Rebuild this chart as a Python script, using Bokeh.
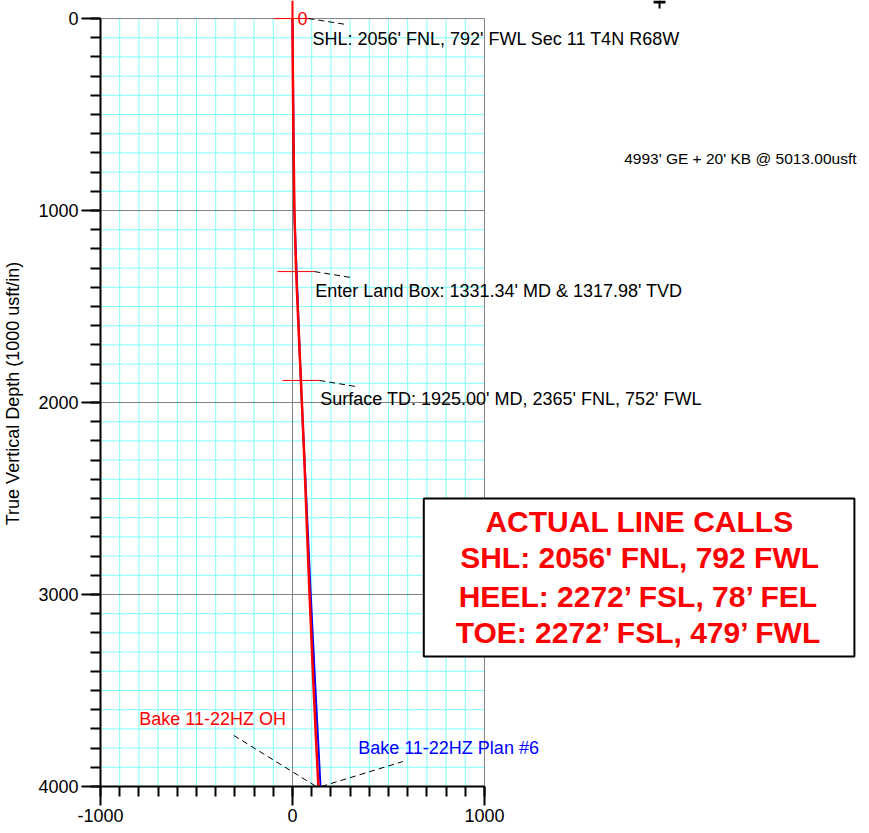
import numpy as np
from bokeh.plotting import figure
from bokeh.models import Range1d, FixedTicker, ColumnDataSource
from bokeh.core.properties import value
from bokeh.embed import file_html
from bokeh.resources import INLINE

# ---- data ----
oh_tvd = [0, 300, 600, 1000, 1318, 1600, 1885, 2300, 2700, 3000, 3400, 3700, 4000]
oh_ew = [0, 2, 5, 10, 19, 31, 44, 62, 77, 89, 106, 120, 135]
plan_tvd = [0, 1000, 1900, 2500, 3000, 3500, 4000]
plan_ew = [0, 9, 44, 72, 95, 120, 146]

marker_tvd = [0, 1318, 1885]
marker_ew = [0, 18, 44]

x_ticks = [-1000, 0, 1000]
y_ticks = [0, 1000, 2000, 3000, 4000]
x_tick_labels = {-1000: "-1000", 0: "0", 1000: "1000"}
y_tick_labels = {0: "0", 1000: "1000", 2000: "2000", 3000: "3000", 4000: "4000"}

note_texts = ["SHL: 2056' FNL, 792' FWL Sec 11 T4N R68W",
              "Enter Land Box: 1331.34' MD & 1317.98' TVD",
              "Surface TD: 1925.00' MD, 2365' FNL, 752' FWL"]
note_x = [104, 119, 145]
note_y = [104, 1417, 1984]

box_lines = ["ACTUAL LINE CALLS",
             "SHL: 2056' FNL, 792 FWL",
             "HEEL: 2272\u2019 FSL, 78\u2019 FEL",
             "TOE: 2272\u2019 FSL, 479\u2019 FWL"]
box_line_y = [2622, 2806, 3012, 3198]

FONT = "Liberation Sans"
XMIN, XMAX = -1000, 2990
YTOP, YBOT = -94, 4000

p = figure(width=866, height=830,
           x_range=Range1d(XMIN, XMAX), y_range=Range1d(YBOT, YTOP),
           output_backend="svg", toolbar_location=None,
           min_border_left=97, min_border_right=0, min_border_top=0, min_border_bottom=44)
p.grid.visible = False
p.outline_line_color = None
p.background_fill_color = "white"
p.border_fill_color = "white"

# ---- grid ----
minor_x = [x for x in range(-900, 1000, 100) if x != 0]
minor_y = [y for y in range(100, 4000, 100) if y % 1000 != 0]
p.segment(x0=minor_x, y0=[0] * len(minor_x), x1=minor_x, y1=[4000] * len(minor_x),
          line_color="#80ffff", line_width=1)
p.segment(x0=[-1000] * len(minor_y), y0=minor_y, x1=[1000] * len(minor_y), y1=minor_y,
          line_color="#80ffff", line_width=1)
gx = [0, 1000]
gy = [0, 1000, 2000, 3000]
p.segment(x0=gx, y0=[0] * len(gx), x1=gx, y1=[4000] * len(gx), line_color="#808080", line_width=1)
p.segment(x0=[-1000] * len(gy), y0=gy, x1=[1000] * len(gy), y1=gy, line_color="#808080", line_width=1)

# ---- wells ----
p.line(plan_ew, plan_tvd, line_color="#0000ff", line_width=2)
p.line(oh_ew, oh_tvd, line_color="#ff0000", line_width=2.5)
p.segment(x0=[oh_ew[0]], y0=[oh_tvd[0]], x1=[oh_ew[0]], y1=[YTOP], line_color="#ff0000", line_width=2)
p.scatter(marker_ew, marker_tvd, marker="dash", size=37, line_color="#ff0000", line_width=1)

# ---- north arrow stub (cut off at top) ----
p.segment(x0=[1912, 1881], y0=[YTOP, -86], x1=[1912, 1943], y1=[-52, -86],
          line_color="black", line_width=[2, 3])

# ---- leaders ----
dash = "6 4"
p.segment(x0=[83, 114, 140, -306, 150], y0=[0, 1318, 1885, 3734, 4000],
          x1=[280, 306, 332, 124, 575], y1=[31, 1349, 1917, 4000, 3870],
          line_color="black", line_width=1, line_dash=dash)

# ---- texts ----
p.text(x=[26], y=[0], text=["0"], text_color="#ff0000", text_font=value(FONT),
       text_font_size="18px", text_baseline="middle", text_align="left")
p.text(x=note_x, y=note_y, text=note_texts, text_color="black", text_font=value(FONT),
       text_font_size="18px", text_baseline="middle", text_align="left")
p.text(x=[2938], y=[729], text=["4993' GE + 20' KB @ 5013.00usft"], text_color="black",
       text_font=value(FONT), text_font_size="15.5px", text_baseline="middle", text_align="right")
p.text(x=[-798], y=[3651], text=["Bake 11-22HZ OH"], text_color="#ff0000", text_font=value(FONT),
       text_font_size="18px", text_baseline="middle", text_align="left")
p.text(x=[342], y=[3802], text=["Bake 11-22HZ Plan #6"], text_color="#0000ff", text_font=value(FONT),
       text_font_size="18px", text_baseline="middle", text_align="left")

# ---- box ----
p.quad(left=[684], right=[2927], top=[2500], bottom=[3323], fill_color="white",
       line_color="black", line_width=2)
p.text(x=[1808] * len(box_lines), y=box_line_y, text=box_lines, text_color="#ff0000",
       text_font=value(FONT), text_font_size="30px", text_font_style="bold",
       text_baseline="middle", text_align="center")

# ---- axes ----
for ax in (p.xaxis[0], p.yaxis[0]):
    ax.axis_line_width = 2
    ax.axis_line_color = "black"
    ax.major_tick_in = 0
    ax.major_tick_out = 19
    ax.minor_tick_in = 0
    ax.minor_tick_out = 10
    ax.major_tick_line_width = 2
    ax.minor_tick_line_width = 2
    ax.major_tick_line_color = "black"
    ax.minor_tick_line_color = "black"
    ax.major_label_text_font = FONT
    ax.major_label_text_font_size = "18px"
    ax.major_label_text_color = "black"
    ax.major_label_standoff = 3

p.xaxis[0].bounds = (-1000, 1000)
p.xaxis[0].ticker = FixedTicker(ticks=x_ticks, minor_ticks=list(range(-1000, 1001, 100)))
p.xaxis[0].major_label_overrides = x_tick_labels

p.yaxis[0].bounds = (0, 4000)
p.yaxis[0].ticker = FixedTicker(ticks=y_ticks, minor_ticks=list(range(0, 4001, 100)))
p.yaxis[0].major_label_overrides = y_tick_labels
p.yaxis[0].axis_label = "True Vertical Depth (1000 usft/in)"
p.yaxis[0].axis_label_text_font = FONT
p.yaxis[0].axis_label_text_font_size = "18px"
p.yaxis[0].axis_label_text_font_style = "normal"
p.yaxis[0].axis_label_text_color = "black"
p.yaxis[0].axis_label_standoff = 12

open("out.html", "w").write(file_html(p, INLINE))
